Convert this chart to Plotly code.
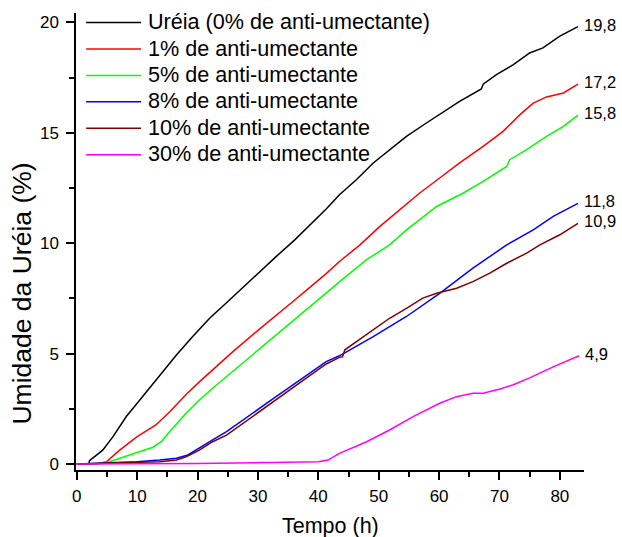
import plotly.graph_objects as go

# ---------------- data ----------------
series_names = [
    "Uréia (0% de anti-umectante)",
    "1% de anti-umectante",
    "5% de anti-umectante",
    "8% de anti-umectante",
    "10% de anti-umectante",
    "30% de anti-umectante",
]
series_colors = ["#000000", "#FF0000", "#00FF00", "#0000FF", "#800000", "#FF00FF"]
end_labels = ["19,8", "17,2", "15,8", "11,8", "10,9", "4,9"]

t_ureia = [0, 2.0, 2.1, 4.3, 6.0, 8.2, 10.0, 12.0, 13.7, 16.5, 19.2, 22.0, 24.8, 27.5,
           30.3, 33.0, 36.1, 41.3, 43.5, 46.3, 49.1, 51.8, 54.6, 57.9, 60.1, 63.4,
           67.0, 67.3, 69.5, 72.3, 75.0, 77.2, 80.0, 83.0]
v_ureia = [0, 0, 0.15, 0.63, 1.24, 2.15, 2.75, 3.43, 3.96, 4.94, 5.77, 6.6, 7.3, 8.0,
           8.69, 9.39, 10.15, 11.55, 12.19, 12.87, 13.63, 14.23, 14.83, 15.44, 15.82, 16.42,
           16.98, 17.2, 17.63, 18.08, 18.61, 18.84, 19.37, 19.8]

t_1 = [0, 3.2, 4.9, 7.1, 10.0, 13.1, 15.4, 18.1, 20.3, 23.1, 25.9, 30.3, 33.0, 35.8,
       38.6, 41.3, 43.5, 46.9, 50.2, 53.5, 56.8, 60.1, 63.4, 67.3, 70.6, 73.4, 75.6,
       77.8, 80.6, 83.0]
v_1 = [0, 0, 0.1, 0.63, 1.24, 1.77, 2.37, 3.15, 3.72, 4.42, 5.1, 6.12, 6.75, 7.36,
       8.0, 8.62, 9.17, 9.92, 10.76, 11.51, 12.27, 12.95, 13.63, 14.38, 15.06, 15.82, 16.34,
       16.62, 16.8, 17.2]

t_5 = [0, 3.0, 5.4, 8.2, 10.4, 12.6, 14.0, 15.4, 18.1, 20.3, 22.5, 24.8, 30.3, 35.8,
       41.3, 43.5, 48.0, 51.8, 54.6, 59.6, 64.0, 67.3, 71.2, 71.7, 74.5, 77.8, 80.6, 83.0]
v_5 = [0, 0, 0.1, 0.36, 0.56, 0.76, 1.01, 1.47, 2.3, 2.9, 3.43, 3.96, 5.25, 6.5,
       7.75, 8.25, 9.25, 9.92, 10.6, 11.66, 12.27, 12.8, 13.47, 13.78, 14.23, 14.83, 15.29, 15.8]

t_8 = [0, 5.4, 10.0, 13.7, 16.5, 18.4, 20.3, 22.5, 24.8, 27.5, 30.3, 33.0, 35.8, 38.6,
       41.3, 43.5, 49.1, 54.6, 60.1, 65.6, 70.1, 71.2, 75.6, 78.9, 83.0]
v_8 = [0, 0.06, 0.1, 0.18, 0.26, 0.41, 0.71, 1.09, 1.47, 2.0, 2.52, 3.05, 3.58, 4.11,
       4.64, 4.9, 5.77, 6.68, 7.73, 8.87, 9.7, 9.92, 10.6, 11.21, 11.8]

t_10 = [0, 13.7, 16.5, 18.1, 20.3, 22.5, 24.8, 27.5, 30.3, 33.0, 35.8, 38.6, 41.3, 43.5,
        44.0, 44.4, 49.1, 51.8, 54.6, 57.3, 59.6, 62.9, 65.6, 68.4, 71.2, 74.5, 76.7,
        80.0, 83.0]
v_10 = [0, 0.1, 0.18, 0.33, 0.63, 1.01, 1.31, 1.84, 2.37, 2.93, 3.46, 4.0, 4.53, 4.83,
        4.85, 5.17, 6.07, 6.6, 7.05, 7.51, 7.73, 7.96, 8.26, 8.64, 9.09, 9.55, 9.92,
        10.38, 10.9]

t_30 = [0, 20.0, 40.0, 41.6, 43.5, 46.3, 48.0, 51.8, 55.7, 60.1, 62.9, 65.6, 67.3,
        70.1, 72.3, 75.0, 78.9, 83.2]
v_30 = [0, 0.02, 0.1, 0.18, 0.48, 0.82, 1.01, 1.54, 2.15, 2.75, 3.05, 3.2, 3.2,
        3.4, 3.59, 3.9, 4.4, 4.9]

series_t = [t_ureia, t_1, t_5, t_8, t_10, t_30]
series_v = [v_ureia, v_1, v_5, v_8, v_10, v_30]

x_ticks = [0, 10, 20, 30, 40, 50, 60, 70, 80]
y_ticks = [0, 5, 10, 15, 20]

x_title = "Tempo (h)"
y_title = "Umidade da Uréia (%)"

# ---------------- figure ----------------
FONT = "Arial, Liberation Sans, sans-serif"
fig = go.Figure()

for name, col, tt, vv in zip(series_names, series_colors, series_t, series_v):
    fig.add_trace(go.Scatter(x=tt, y=vv, mode="lines", name=name,
                             line=dict(color=col, width=1.5), showlegend=False))

annotations = []
shapes = []

# end-of-curve value labels
for lab, tt, vv in zip(end_labels, series_t, series_v):
    annotations.append(dict(x=tt[-1], y=vv[-1], xref="x", yref="y", text=lab,
                            showarrow=False, xanchor="left", yanchor="middle",
                            xshift=4, yshift=2,
                            font=dict(family=FONT, size=16.5, color="#000000")))

# custom legend (long line samples as in the reference)
leg_y0 = 0.979
leg_dy = 0.0578
for i, (name, col) in enumerate(zip(series_names, series_colors)):
    yy = leg_y0 - i * leg_dy
    shapes.append(dict(type="line", xref="paper", yref="paper",
                       x0=0.020, x1=0.128, y0=yy, y1=yy,
                       line=dict(color=col, width=1.5)))
    annotations.append(dict(x=0.137, y=yy, xref="paper", yref="paper", text=name,
                            showarrow=False, xanchor="left", yanchor="middle",
                            yshift=1,
                            font=dict(family=FONT, size=21.6, color="#000000")))

# axis titles
annotations.append(dict(x=0.5, y=-0.1225, xref="paper", yref="paper", text=x_title,
                        showarrow=False, xanchor="center", yanchor="middle",
                        font=dict(family=FONT, size=21.5, color="#000000")))
annotations.append(dict(x=-0.1053, y=0.385, xref="paper", yref="paper", text=y_title,
                        showarrow=False, xanchor="center", yanchor="middle",
                        textangle=-90,
                        font=dict(family=FONT, size=26.5, color="#000000")))

axis_common = dict(showline=True, linecolor="black", linewidth=1.5,
                   ticks="outside", ticklen=8, tickwidth=1.5, tickcolor="black",
                   showgrid=False, zeroline=False, mirror=False, automargin=False,
                   tickfont=dict(family=FONT, size=17, color="#000000"))

fig.update_layout(
    width=622, height=537,
    margin=dict(l=76, r=38, t=13, b=67, autoexpand=False),
    paper_bgcolor="white", plot_bgcolor="white",
    showlegend=False,
    annotations=annotations,
    shapes=shapes,
    xaxis=dict(range=[-0.13, 84.0], tickvals=x_ticks, ticklabelstandoff=2,
               minor=dict(ticks="outside", ticklen=5, tickwidth=1.5,
                          tickcolor="black", dtick=5, tick0=0, showgrid=False),
               **axis_common),
    yaxis=dict(range=[-0.27, 20.42], tickvals=y_ticks, ticklabelstandoff=4,
               minor=dict(ticks="outside", ticklen=5, tickwidth=1.5,
                          tickcolor="black", dtick=2.5, tick0=0, showgrid=False),
               **axis_common),
)

# remove the page's default 8 px body margin so the figure fills the window
fig.write_html(
    "out.html",
    config={"displayModeBar": False},
    post_script="document.body.style.margin='0';"
                "document.body.style.overflow='hidden';"
                "document.documentElement.style.overflow='hidden';",
)
